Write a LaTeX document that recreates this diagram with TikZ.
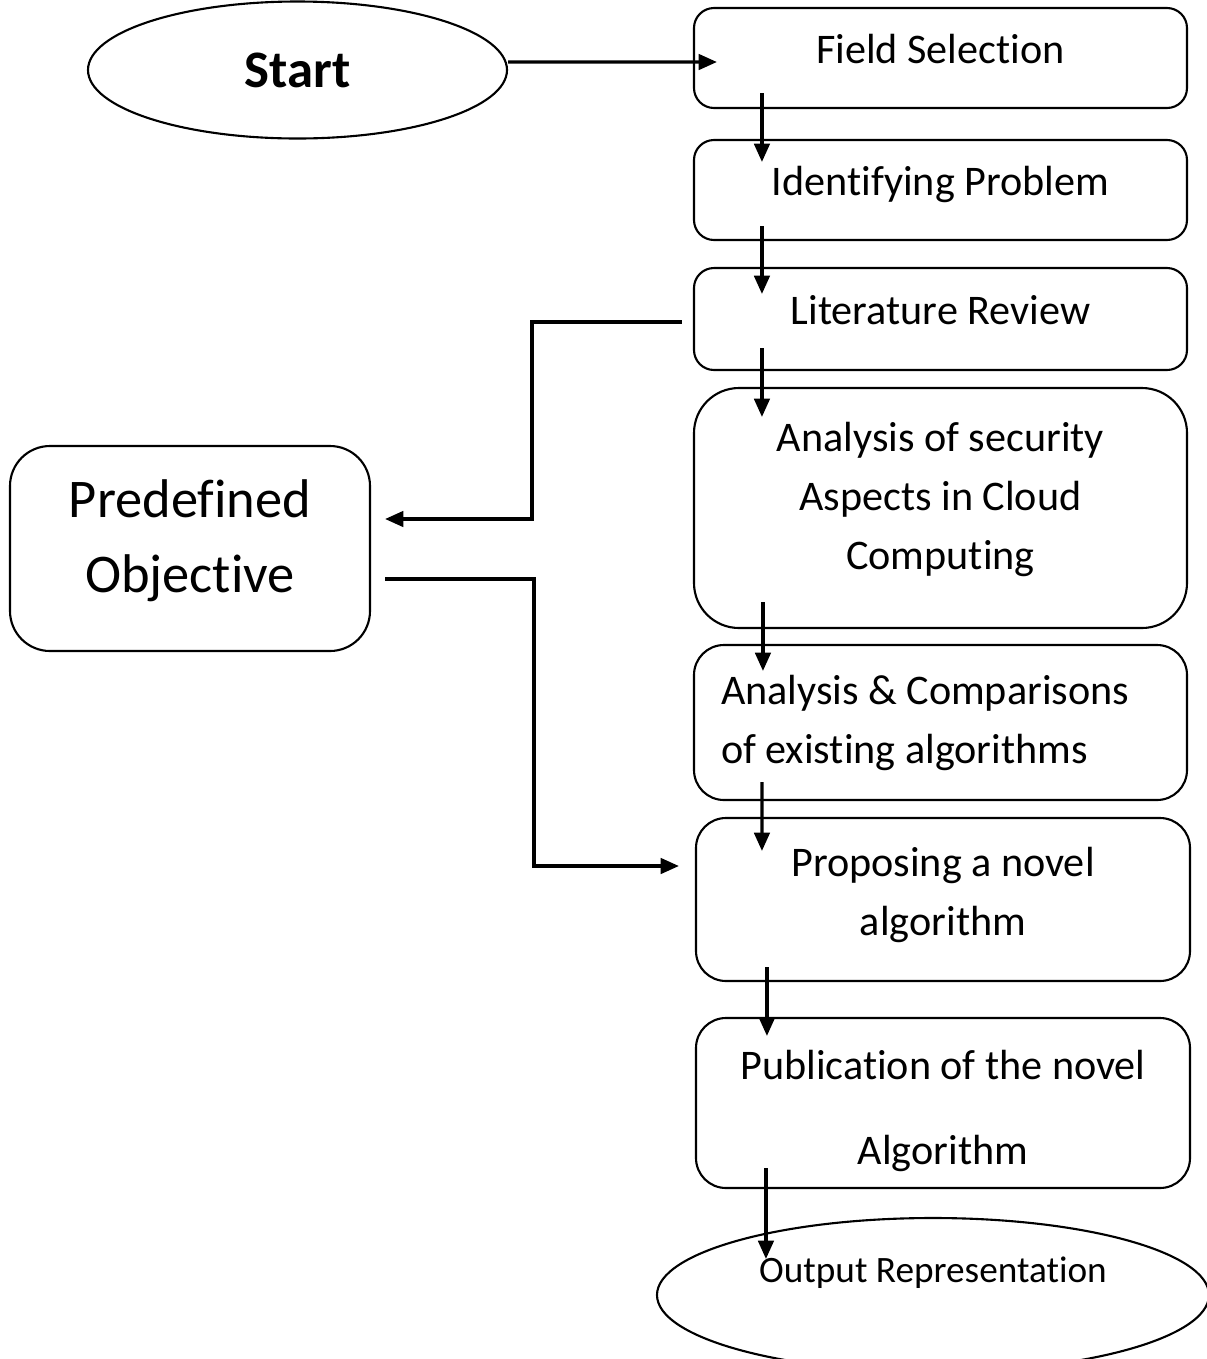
\documentclass[tikz,border=0pt]{standalone}
\usepackage{fontspec}
\setmainfont[Ligatures=NoCommon]{Carlito}
\usetikzlibrary{arrows.meta,calc,shapes.geometric}

\tikzset{
  stepbox/.style={draw, rounded corners=0.2cm, line width=0.6pt, minimum width=4.93cm,
    inner sep=2pt, align=center, font=\fontsize{12}{16.8}\selectfont},
  onebox/.style={stepbox, text height=9pt, text depth=6pt},
  oval/.style={draw, ellipse, line width=0.6pt, inner sep=0pt},
  link/.style={->, line width=0.9pt}
}

\begin{document}
\begin{tikzpicture}[>={Triangle[length=5.2pt,width=4.4pt]}]
  \useasboundingbox (0,0) rectangle (12.06,-13.59);

  \node[oval, minimum width=4.19cm, minimum height=1.37cm, font=\fontsize{15}{18}\selectfont\bfseries] (start) at (2.975,-0.70) {Start};
  \node[onebox, minimum height=1.00cm] (fs) at (9.405,-0.58) {Field Selection};
  \node[onebox, minimum height=1.00cm] (ip) at (9.405,-1.90) {Identifying Problem};
  \node[onebox, minimum height=1.02cm] (lr) at (9.405,-3.19) {Literature Review};
  \node[stepbox, minimum height=2.40cm, rounded corners=0.45cm, text depth=7.1pt] (as) at (9.405,-5.08) {Analysis of security\\ Aspects in Cloud\\ Computing};
  \node[stepbox, minimum height=1.55cm, rounded corners=0.3cm, align=flush left, text width=4.39cm] (ac) at (9.405,-7.225) {Analysis \& Comparisons\\ of existing algorithms};
  \node[stepbox, minimum width=4.94cm, minimum height=1.63cm, rounded corners=0.3cm, text depth=4.8pt] (pn) at (9.43,-8.995) {Proposing a novel\\ algorithm};
  \node[stepbox, minimum width=4.94cm, minimum height=1.70cm, rounded corners=0.3cm, text height=37pt] (pb) at (9.43,-11.03) {Publication of the novel\\[7.4pt] Algorithm};
  \node[oval, minimum width=5.52cm, minimum height=1.54cm, text depth=0.5cm, font=\fontsize{10.6}{13}\selectfont] (out) at (9.33,-12.95) {Output Representation};
  \node[stepbox, minimum width=3.60cm, minimum height=2.05cm, rounded corners=0.4cm, text depth=7pt, font=\fontsize{15.5}{21.3}\selectfont] (po) at (1.90,-5.485) {Predefined\\ Objective};

  % main chain
  \draw [link] ([yshift=0.08cm]start.east) -- ([xshift=0.24cm,yshift=-0.04cm]fs.west);
  \draw [link] ($(fs.south west)+(0.69,0.16)$) -- ($(ip.north west)+(0.69,-0.23)$);
  \draw [link] ($(ip.south west)+(0.69,0.15)$) -- ($(lr.north west)+(0.69,-0.27)$);
  \draw [link] ($(lr.south west)+(0.69,0.23)$) -- ($(as.north west)+(0.69,-0.30)$);
  \draw [link] ($(as.south west)+(0.70,0.27)$) -- ($(ac.north west)+(0.70,-0.27)$);
  \draw [link] ($(ac.south west)+(0.69,0.19)$) -- ($(pn.north west)+(0.67,-0.34)$);
  \draw [link] ($(pn.south west)+(0.72,0.15)$) -- ($(pb.north west)+(0.72,-0.19)$);
  \draw [link] ($(pb.south west)+(0.71,0.21)$) -- ($(pb.south west |- out.north)+(0.71,-0.42)$);

  % side branch
  \draw [link] ($(lr.west)+(-0.11,-0.03)$) -- ++(-1.50,0) |- ($(po.east)+(0.14,0.295)$);
  \draw [link] ($(po.east)+(0.14,-0.305)$) -- ++(1.49,0) |- ($(pn.west)+(-0.16,0.335)$);
\end{tikzpicture}
\end{document}
